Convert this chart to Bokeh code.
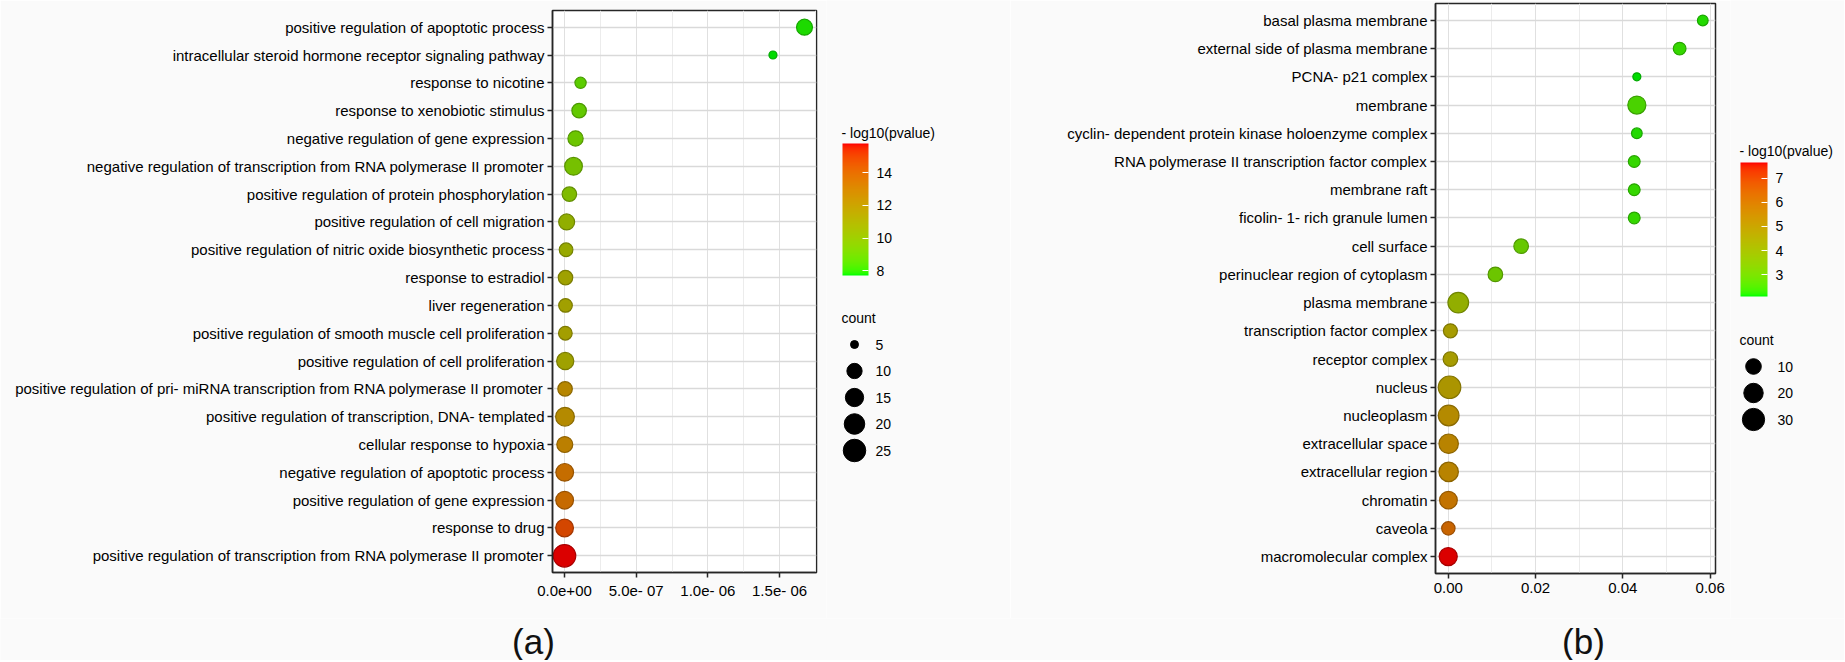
import numpy as np
from bokeh.plotting import figure
from bokeh.models import (FactorRange, Range1d, FixedTicker, LinearColorMapper,
                          ColorBar)
from bokeh.layouts import row, column
from bokeh.embed import file_html
from bokeh.resources import INLINE
from bokeh.core.properties import value

# ---------------- data: panel (a) biological process ----------------
bp_terms = [
    "positive regulation of apoptotic process",
    "intracellular steroid hormone receptor signaling pathway",
    "response to nicotine",
    "response to xenobiotic stimulus",
    "negative regulation of gene expression",
    "negative regulation of transcription from RNA polymerase II promoter",
    "positive regulation of protein phosphorylation",
    "positive regulation of cell migration",
    "positive regulation of nitric oxide biosynthetic process",
    "response to estradiol",
    "liver regeneration",
    "positive regulation of smooth muscle cell proliferation",
    "positive regulation of cell proliferation",
    "positive regulation of pri- miRNA transcription from RNA polymerase II promoter",
    "positive regulation of transcription, DNA- templated",
    "cellular response to hypoxia",
    "negative regulation of apoptotic process",
    "positive regulation of gene expression",
    "response to drug",
    "positive regulation of transcription from RNA polymerase II promoter",
]
bp_value = [1.674e-06, 1.454e-06, 1.12e-07, 1.02e-07, 7.7e-08, 6.3e-08, 3.4e-08,
            1.5e-08, 1.1e-08, 7.0e-09, 7.0e-09, 6.0e-09, 5.0e-09, 4.0e-09,
            3.5e-09, 2.0e-09, 1.5e-09, 1.0e-09, 5.0e-10, 1.0e-11]
bp_logp = [7.8, 7.7, 8.6, 8.8, 9.0, 9.3, 9.6, 10.3, 10.6, 11.0,
           11.1, 11.2, 11.0, 12.4, 12.2, 12.7, 13.5, 13.6, 14.8, 15.8]
bp_count = [11, 5, 6, 9, 10, 14, 9, 11, 8, 9, 8, 8, 13, 9, 16, 11, 14, 14, 14, 25]
bp_xticks = [0.0, 5e-07, 1e-06, 1.5e-06]
bp_xtick_labels = ["0.0e+00", "5.0e- 07", "1.0e- 06", "1.5e- 06"]
bp_color_ticks = [8, 10, 12, 14]
bp_size_breaks = [5, 10, 15, 20, 25]

# ---------------- data: panel (b) cellular component ----------------
cc_terms = [
    "basal plasma membrane",
    "external side of plasma membrane",
    "PCNA- p21 complex",
    "membrane",
    "cyclin- dependent protein kinase holoenzyme complex",
    "RNA polymerase II transcription factor complex",
    "membrane raft",
    "ficolin- 1- rich granule lumen",
    "cell surface",
    "perinuclear region of cytoplasm",
    "plasma membrane",
    "transcription factor complex",
    "receptor complex",
    "nucleus",
    "nucleoplasm",
    "extracellular space",
    "extracellular region",
    "chromatin",
    "caveola",
    "macromolecular complex",
]
cc_value = [0.0583, 0.0530, 0.0432, 0.0432, 0.0432, 0.0426, 0.0426, 0.0426,
            0.0167, 0.0108, 0.0023, 0.0005, 0.0005, 0.0003, 0.0001, 0.0001,
            0.0001, 0.00005, 0.00003, 0.0]
cc_logp = [2.2, 2.3, 2.1, 2.5, 2.2, 2.3, 2.3, 2.3, 2.9, 3.0,
           3.9, 4.6, 4.6, 4.8, 5.2, 5.4, 5.4, 5.9, 6.3, 7.65]
cc_count = [3, 5, 2, 16, 3, 4, 4, 4, 8, 8, 24, 7, 8, 31, 24, 20, 20, 15, 6, 16]
cc_xticks = [0.0, 0.02, 0.04, 0.06]
cc_xtick_labels = ["0.00", "0.02", "0.04", "0.06"]
cc_color_ticks = [3, 4, 5, 6, 7]
cc_size_breaks = [10, 20, 30]

panel_tags = ["(a)", "(b)"]

# ---------------- styling helpers ----------------
FONT = "Liberation Sans"
BG = "#fafafa"
MAIN_H = 618
STRIP_H = 42
D_MIN, D_MAX = 8.0, 22.5


def _srgb_to_lab(h):
    rgb = np.array([int(h[i:i + 2], 16) for i in (1, 3, 5)]) / 255.0
    lin = np.where(rgb <= 0.04045, rgb / 12.92, ((rgb + 0.055) / 1.055) ** 2.4)
    M = np.array([[0.4124564, 0.3575761, 0.1804375],
                  [0.2126729, 0.7151522, 0.0721750],
                  [0.0193339, 0.1191920, 0.9503041]])
    xyz = M @ lin / np.array([0.95047, 1.0, 1.08883])
    d = 6 / 29
    f = np.where(xyz > d ** 3, np.cbrt(xyz), xyz / (3 * d * d) + 4 / 29)
    return np.array([116 * f[1] - 16, 500 * (f[0] - f[1]), 200 * (f[1] - f[2])])


def _lab_to_rgb(lab):
    L, a, b = lab
    fy = (L + 16) / 116
    fx = fy + a / 500
    fz = fy - b / 200
    d = 6 / 29
    f = np.array([fx, fy, fz])
    xyz = np.where(f > d, f ** 3, 3 * d * d * (f - 4 / 29)) * np.array([0.95047, 1.0, 1.08883])
    Minv = np.array([[3.2404542, -1.5371385, -0.4985314],
                     [-0.9692660, 1.8760108, 0.0415560],
                     [0.0556434, -0.2040259, 1.0572252]])
    lin = np.clip(Minv @ xyz, 0, 1)
    rgb = np.where(lin <= 0.0031308, 12.92 * lin, 1.055 * lin ** (1 / 2.4) - 0.055)
    return np.clip(rgb, 0, 1)


def lab_palette(low, high, n=256, shade=1.0):
    l0, l1 = _srgb_to_lab(low), _srgb_to_lab(high)
    out = []
    for t in np.linspace(0, 1, n):
        rgb = _lab_to_rgb(l0 + (l1 - l0) * t) * shade
        out.append("#%02x%02x%02x" % tuple(int(round(c * 255)) for c in rgb))
    return out


BAR_PAL = lab_palette("#00ff00", "#ff0000")
FILL_PAL = lab_palette("#00ff00", "#ff0000", shade=0.86)
EDGE_PAL = lab_palette("#00ff00", "#ff0000", shade=0.66)


def size_scale(counts, cmin, cmax):
    c = np.asarray(counts, dtype=float)
    return D_MIN + (D_MAX - D_MIN) * np.sqrt((c - cmin) / (cmax - cmin))


def dot_panel(terms, xs, logp, counts, xticks, xlabels, label_px,
              b_left, frame_w, b_right, b_top, frame_h):
    span = max(xs) - min(xs)
    x0, x1 = min(xs) - 0.05 * span, max(xs) + 0.05 * span
    p = figure(width=b_left + frame_w + b_right, height=MAIN_H,
               y_range=FactorRange(*terms[::-1], range_padding=0.1,
                                   range_padding_units="absolute"),
               x_range=Range1d(x0, x1), output_backend="svg",
               toolbar_location=None, min_border_left=b_left,
               min_border_right=b_right, min_border_top=b_top,
               min_border_bottom=MAIN_H - b_top - frame_h)
    p.frame_align = False
    p.background_fill_color = "white"
    p.border_fill_color = BG
    p.outline_line_color = "#262626"
    p.outline_line_width = 1.5

    lo, hi = min(logp), max(logp)
    bar = LinearColorMapper(palette=BAR_PAL, low=lo, high=hi)
    fill = LinearColorMapper(palette=FILL_PAL, low=lo, high=hi)
    edge = LinearColorMapper(palette=EDGE_PAL, low=lo, high=hi)
    src = dict(term=terms, x=xs, logp=logp,
               size=size_scale(counts, min(counts), max(counts)))
    p.scatter(x="x", y="term", size="size", source=src,
              fill_color={"field": "logp", "transform": fill},
              line_color={"field": "logp", "transform": edge}, line_width=1.2)

    minor = [(a + b) / 2 for a, b in zip(xticks[:-1], xticks[1:])]
    minor.append(xticks[-1] + (xticks[1] - xticks[0]) / 2)
    p.xaxis.ticker = FixedTicker(ticks=xticks, minor_ticks=minor)
    p.xaxis.major_label_overrides = {t: l for t, l in zip(xticks, xlabels)}
    p.xgrid.grid_line_color = "#e0e0e0"
    p.xgrid.grid_line_width = 1
    p.xgrid.minor_grid_line_color = "#ececec"
    p.xgrid.minor_grid_line_width = 1
    p.ygrid.grid_line_color = "#d9d9d9"
    p.ygrid.grid_line_width = 1.6

    for ax in (p.xaxis[0], p.yaxis[0]):
        ax.axis_line_color = "#262626"
        ax.axis_line_width = 1.5
        ax.major_tick_line_color = "#262626"
        ax.major_tick_line_width = 1.5
        ax.major_tick_out = 5
        ax.major_tick_in = 0
        ax.minor_tick_line_color = None
        ax.major_label_text_font = FONT
        ax.major_label_text_color = "black"
    p.yaxis.major_label_text_font_size = label_px
    p.yaxis.major_label_standoff = 3
    p.xaxis.major_label_text_font_size = "15px"
    p.xaxis.major_label_standoff = 4
    return p, bar


def legend_panel(width, mapper, cticks, breaks, cmin, cmax, cb_left, cb_top,
                 cb_w, cb_h, title_y, count_y, circ_x, lab_x, step):
    p = figure(width=width, height=MAIN_H, x_range=Range1d(0, width),
               y_range=Range1d(MAIN_H, 0), x_axis_type=None, y_axis_type=None,
               output_backend="svg", toolbar_location=None, min_border=0,
               min_border_left=0, min_border_right=0, min_border_top=0,
               min_border_bottom=0)
    p.frame_align = False
    p.outline_line_color = None
    p.background_fill_color = BG
    p.border_fill_color = BG
    cb = ColorBar(color_mapper=mapper, ticker=FixedTicker(ticks=cticks),
                  width=cb_w, height=cb_h,
                  location=(cb_left, MAIN_H - cb_top - cb_h), padding=0,
                  major_label_text_font=FONT, major_label_text_font_size="14px",
                  major_label_text_color="black", label_standoff=8,
                  major_tick_line_color="white", major_tick_line_width=1.2,
                  major_tick_in=6, major_tick_out=0, bar_line_color=None,
                  border_line_color=None, background_fill_color=None)
    p.add_layout(cb)
    ys = [count_y + 27 + i * step for i in range(len(breaks))]
    p.scatter(x=[circ_x] * len(breaks), y=ys,
              size=size_scale(breaks, cmin, cmax), color="black")
    p.text(x=[lab_x] * len(breaks), y=ys, text=[str(b) for b in breaks],
           text_baseline="middle", text_font=value(FONT),
           text_font_size="14px", text_color="black")
    p.text(x=[cb_left - 1, cb_left - 1], y=[title_y, count_y],
           text=["- log10(pvalue)", "count"], text_baseline="middle",
           text_font=value(FONT), text_font_size="14px", text_color="black")
    return p


# ---------------- panels ----------------
W_A, W_LA, W_B, W_LB = 826, 184, 720, 114
pa, map_a = dot_panel(bp_terms, bp_value, bp_logp, bp_count, bp_xticks,
                      bp_xtick_labels, "15px", b_left=552, frame_w=264,
                      b_right=10, b_top=10, frame_h=562)
la = legend_panel(W_LA, map_a, bp_color_ticks, bp_size_breaks,
                  min(bp_count), max(bp_count), cb_left=16, cb_top=143,
                  cb_w=26, cb_h=132, title_y=132, count_y=317, circ_x=28,
                  lab_x=49, step=26.5)
pb, map_b = dot_panel(cc_terms, cc_value, cc_logp, cc_count, cc_xticks,
                      cc_xtick_labels, "15px", b_left=425, frame_w=280,
                      b_right=15, b_top=3, frame_h=570)
lb = legend_panel(W_LB, map_b, cc_color_ticks, cc_size_breaks,
                  min(cc_count), max(cc_count), cb_left=10, cb_top=162,
                  cb_w=27, cb_h=134, title_y=150, count_y=339, circ_x=23,
                  lab_x=47, step=26.5)

# strip with the panel tags, centred under each panel
total_w = W_A + W_LA + W_B + W_LB
strip = figure(width=total_w, height=STRIP_H, x_range=Range1d(0, total_w),
               y_range=Range1d(STRIP_H, 0), x_axis_type=None, y_axis_type=None,
               output_backend="svg", toolbar_location=None, min_border=0,
               min_border_left=0, min_border_right=0, min_border_top=0,
               min_border_bottom=0)
strip.frame_align = False
strip.outline_line_color = None
strip.background_fill_color = BG
strip.border_fill_color = BG
tag_x = [533, W_A + W_LA + 425 + 148]
strip.text(x=tag_x, y=[23, 23], text=panel_tags, text_align="center",
           text_baseline="middle", text_font=value(FONT),
           text_font_size="35px", text_color="#111111")

layout = column(row(pa, la, pb, lb, spacing=0), strip, spacing=0)
open("out.html", "w").write(file_html(layout, INLINE))
